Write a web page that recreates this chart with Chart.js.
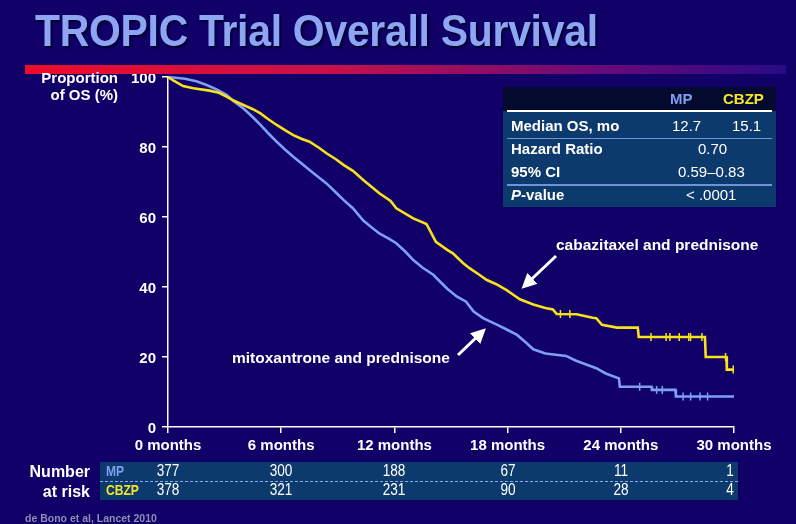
<!DOCTYPE html>
<html>
<head>
<meta charset="utf-8">
<script src="https://cdn.jsdelivr.net/npm/chart.js@4/dist/chart.umd.min.js"></script>
<style>
  html, body { margin:0; padding:0; }
  body { width:796px; height:524px; background:#100068; position:relative; overflow:hidden;
         font-family:"Liberation Sans", Arial, sans-serif; color:#fff; }
  #wrap { position:absolute; left:0; top:0; width:796px; height:524px; }
  .abs { position:absolute; white-space:nowrap; }
  #title { left:35px; top:6px; font-size:44px; font-weight:bold; color:#8ea6f2;
           text-shadow:2px 2px 2px #000030; letter-spacing:-0.3px;
           transform:scaleX(0.93); transform-origin:left top; }
  #bar { left:25px; top:65px; width:761px; height:9px;
         background:linear-gradient(to right,#ee0c2a 0%,#c8104a 40%,#6a0a78 75%,#2a0a86 100%); }
  #ylab { right:678px; top:69px; font-size:15px; font-weight:bold; text-align:right; line-height:17px; }
  .note { font-size:15.5px; font-weight:bold; }
  #stats { left:503px; top:87px; width:273px; height:120px; background:#0c3a6c; }
  #stats .hd { position:absolute; left:0; top:0; width:273px; height:24px; background:#040a2e; }
  #stats .ln { position:absolute; left:4px; width:265px; }
  #stats .t { position:absolute; font-size:15px; line-height:18px; }
  #stats .b { font-weight:bold; }
  #risk { left:100px; top:462px; width:638px; height:38px; background:#0c3a6c; }
  #risk .t { position:absolute; font-size:16px; line-height:18px; transform:translateX(-50%) scaleX(0.85); }
  #risk .g { position:absolute; font-size:15.5px; line-height:18px; font-weight:bold;
             transform:scaleX(0.78); transform-origin:left top; }
  #risk .dash { position:absolute; left:0; top:19px; width:638px; border-top:1px dashed #8aaaf0; }
  #nar { right:706px; top:462px; font-size:16px; font-weight:bold; text-align:right; line-height:20px; }
  #cite { left:25px; top:512px; font-size:10.5px; font-weight:bold; color:#8c8eb4; }
</style>
</head>
<body>
<div id="wrap"><canvas id="km" width="796" height="524"></canvas></div>
<div class="abs" id="title">TROPIC Trial Overall Survival</div>
<div class="abs" id="bar"></div>
<div class="abs" id="ylab">Proportion<br>of OS (%)</div>

<div class="abs note" style="left:556px; top:236px;">cabazitaxel and prednisone</div>
<div class="abs note" style="left:232px; top:349px;">mitoxantrone and prednisone</div>
<svg class="abs" style="left:0;top:0" width="796" height="524">
  <defs>
    <marker id="ah" markerWidth="5" markerHeight="5" refX="2.5" refY="2.5" orient="auto" markerUnits="strokeWidth">
      <path d="M0,0 L5,2.5 L0,5 Z" fill="#fff"/>
    </marker>
  </defs>
  <line x1="556" y1="256" x2="527" y2="283.5" stroke="#fff" stroke-width="3" marker-end="url(#ah)"/>
  <line x1="458" y1="355" x2="480.5" y2="333.5" stroke="#fff" stroke-width="3" marker-end="url(#ah)"/>
</svg>

<div class="abs" id="stats">
  <div class="hd"></div>
  <div class="ln" style="top:23px; border-top:2px solid #fff;"></div>
  <div class="ln" style="top:51px; border-top:1px solid #6f92d8;"></div>
  <div class="ln" style="top:97px; border-top:2px solid #6f92d8;"></div>
  <div class="t b" style="left:167px; top:3px; color:#7f9ff0;">MP</div>
  <div class="t b" style="left:220px; top:3px; color:#f5e52a;">CBZP</div>
  <div class="t b" style="left:8px; top:30px;">Median OS, mo</div>
  <div class="t" style="left:169px; top:30px;">12.7</div>
  <div class="t" style="left:229px; top:30px;">15.1</div>
  <div class="t b" style="left:8px; top:53px;">Hazard Ratio</div>
  <div class="t" style="left:195px; top:53px;">0.70</div>
  <div class="t b" style="left:8px; top:76px;">95% CI</div>
  <div class="t" style="left:175px; top:76px;">0.59–0.83</div>
  <div class="t b" style="left:8px; top:99px;"><i>P</i>-value</div>
  <div class="t" style="left:183px; top:99px;">&lt; .0001</div>
</div>

<div class="abs" id="nar">Number<br>at risk</div>
<div class="abs" id="risk"></div>
<div class="abs" id="cite">de Bono et al, Lancet 2010</div>

<script>
// months on the x axis, % alive on the y axis
const xTicks = [0, 6, 12, 18, 24, 30];

const mpMonths = [0, 0.9, 1.5, 2.05, 2.6, 3.1, 3.5, 4.0, 4.5, 4.9, 5.3, 5.76, 6.2, 6.64, 7.1, 7.5, 8.0, 8.4, 8.9, 9.3,
  9.8, 10.35, 10.8, 11.2, 11.7, 12.1, 12.6, 13.0, 13.5, 14.06, 14.8, 15.3, 15.8, 16.2, 16.7, 17.4, 17.9, 18.5, 19.0, 19.36,
  20.0, 21.1, 21.6, 22.2, 22.7, 23.2, 23.9, 23.95, 25.63, 25.65, 26.9, 26.92, 30];
const mpSurv = [100, 99.5, 98.8, 97.7, 96.4, 94.9, 93, 91, 88.5, 86.3, 84, 81.5, 79.3, 77.2, 75.2, 73.4, 71.3, 69.6, 67, 64.9,
  62.5, 59, 57, 55.3, 53.8, 52.5, 50, 47.7, 45.5, 43.5, 39.5, 37.3, 35.8, 33, 31.1, 29.3, 28, 26.3, 24, 22.2,
  21, 20.3, 19, 17.8, 16.8, 15.3, 13.9, 11.5, 11.5, 10.6, 10.6, 8.7, 8.7];

const cbzpMonths = [0, 0.28, 0.8, 1.34, 2.2, 2.7, 3.1, 3.5, 4.0, 4.5, 4.9, 5.3, 5.76, 6.2, 6.64, 7.1, 7.5, 8.0, 8.4, 8.9,
  9.3, 9.8, 10.35, 10.8, 11.2, 11.8, 12.1, 13.0, 13.7, 14.2, 14.8, 15.1, 15.65, 16.0, 16.5, 16.9, 17.4, 17.95, 18.3, 18.65,
  19.36, 20.0, 20.4, 20.6, 21.66, 22.5, 22.7, 23.0, 23.8, 24.9, 24.95, 28.46, 28.5, 29.6, 29.62, 29.96];
const cbzpSurv = [100, 99, 97.4, 96.8, 96.1, 95.5, 94.4, 93.2, 92, 90.8, 89.6, 88, 86.3, 84.8, 83.4, 82.3, 81.5, 79.8, 78.2, 76.5,
  74.9, 73.2, 70.6, 68.6, 66.8, 64.6, 62.5, 59.6, 58, 52.9, 50.6, 49.6, 46.8, 45.3, 43.5, 42, 40.8, 39.1, 37.8, 36.5,
  35, 34, 33.6, 32.3, 32.2, 31.2, 31.1, 29.2, 28.4, 28.4, 25.7, 25.7, 20, 20, 16.4, 16.4];

// censored patients visible in the tails
const mpCensMonths = [25.0, 25.9, 26.2, 27.3, 27.7, 28.2, 28.6];
const mpCensSurv   = [11.5, 10.6, 10.6, 8.7, 8.7, 8.7, 8.7];
const cbzpCensMonths = [20.8, 21.3, 25.6, 26.4, 26.6, 27.1, 27.6, 27.7, 28.3, 29.55, 29.96];
const cbzpCensSurv   = [32.3, 32.3, 25.7, 25.7, 25.7, 25.7, 25.7, 25.7, 25.7, 20, 16.4];

const mpRisk   = [377, 300, 188, 67, 11, 1];
const cbzpRisk = [378, 321, 231, 90, 28, 4];

const blue = '#7f9ff5';
const yellow = '#f7e21c';
const pts = (xs, ys) => xs.map((x, i) => ({ x: x, y: ys[i] }));

const chartLeft = 168, chartRight = 734;

new Chart(document.getElementById('km').getContext('2d'), {
  type: 'line',
  data: {
    datasets: [
      { data: pts(cbzpMonths, cbzpSurv), borderColor: yellow, borderWidth: 2.6, pointRadius: 0, tension: 0 },
      { data: pts(mpMonths, mpSurv), borderColor: blue, borderWidth: 2.6, pointRadius: 0, tension: 0 },
      { data: pts(cbzpCensMonths, cbzpCensSurv), showLine: false, pointStyle: 'line', rotation: 90,
        pointRadius: 4, borderColor: yellow, borderWidth: 1.5 },
      { data: pts(mpCensMonths, mpCensSurv), showLine: false, pointStyle: 'line', rotation: 90,
        pointRadius: 4, borderColor: blue, borderWidth: 1.5 }
    ]
  },
  options: {
    responsive: false,
    animation: false,
    devicePixelRatio: 1,
    clip: false,
    layout: { padding: { left: 0, top: 77, right: 796 - chartRight, bottom: 524 - 427 - 30 } },
    plugins: { legend: { display: false }, tooltip: { enabled: false } },
    scales: {
      x: {
        type: 'linear', min: 0, max: 30,
        afterFit: s => { s.height = 30; },
        afterBuildTicks: s => { s.ticks = xTicks.map(v => ({ value: v })); },
        border: { display: true, color: '#fff', width: 1.5 },
        grid: { display: true, drawOnChartArea: false, drawTicks: true, tickLength: 6, color: '#fff', lineWidth: 1.5 },
        ticks: { color: '#fff', padding: 4, maxRotation: 0, font: { family: 'Liberation Sans', size: 15, weight: 'bold' },
                 callback: v => v + ' months' }
      },
      y: {
        min: 0, max: 100,
        afterFit: s => { s.width = chartLeft; },
        border: { display: true, color: '#fff', width: 1.5 },
        grid: { display: true, drawOnChartArea: false, drawTicks: true, tickLength: 6, color: '#fff', lineWidth: 1.5 },
        ticks: { stepSize: 20, color: '#fff', padding: 6, labelOffset: 2,
                 font: { family: 'Liberation Sans', size: 15, weight: 'bold' } }
      }
    }
  }
});

// number at risk table, columns centred under the month ticks
const risk = document.getElementById('risk');
const colX = xTicks.map(m => chartLeft + (chartRight - chartLeft) * m / 30 - 100);
colX[colX.length - 1] -= 4;
risk.innerHTML = '<div class="dash"></div>' +
  '<div class="g" style="left:6px;top:0;color:#7f9ff0">MP</div>' +
  '<div class="g" style="left:6px;top:19px;color:#f5e52a">CBZP</div>' +
  mpRisk.map((v, i) => `<div class="t" style="left:${colX[i]}px;top:0">${v}</div>`).join('') +
  cbzpRisk.map((v, i) => `<div class="t" style="left:${colX[i]}px;top:19px">${v}</div>`).join('');
</script>
</body>
</html>
